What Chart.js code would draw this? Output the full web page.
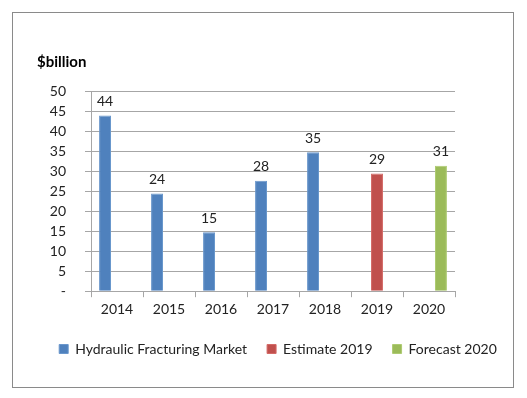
<!DOCTYPE html>
<html><head><meta charset="utf-8">
<script src="https://cdn.jsdelivr.net/npm/chart.js@4.4.0/dist/chart.umd.min.js"></script>
<style>
html,body{margin:0;padding:0;background:#fff;}
#wrap{position:relative;width:527px;height:398px;}
#frame{position:absolute;left:12px;top:12px;width:500px;height:374px;border:1px solid #8a8a8a;pointer-events:none;}
canvas{position:absolute;left:0;top:0;}
</style></head>
<body>
<div id="wrap"><canvas id="c" width="527" height="398"></canvas><div id="frame"></div></div>
<script>
const categories = ['2014','2015','2016','2017','2018','2019','2020'];
const marketValues = [43.9, 24.4, 14.7, 27.6, 34.7, null, null];
const estimateValues = [null, null, null, null, null, 29.4, null];
const forecastValues = [null, null, null, null, null, null, 31.3];
const seriesNames = ['Hydraulic Fracturing Market', 'Estimate 2019', 'Forecast 2020'];
const yTickLabels = {0:'-',5:'5',10:'10',15:'15',20:'20',25:'25',30:'30',35:'35',40:'40',45:'45',50:'50'};

const FONT = 'Lato, "Noto Sans", sans-serif';
const gridColor = '#a6a6a6';

const labelPlugin = {
  id: 'barLabels',
  afterDatasetsDraw(chart) {
    const ctx = chart.ctx;
    ctx.save();
    ctx.font = '14px ' + FONT;
    ctx.fillStyle = '#222';
    ctx.textAlign = 'center';
    ctx.textBaseline = 'bottom';
    chart.data.datasets.forEach((ds, i) => {
      const meta = chart.getDatasetMeta(i);
      meta.data.forEach((el, j) => {
        const v = ds.data[j];
        if (v === null || v === undefined) return;
        ctx.fillText(String(Math.round(v)), el.x, el.y - 7);
      });
    });
    ctx.restore();
  }
};

new Chart(document.getElementById('c'), {
  type: 'bar',
  data: {
    labels: categories,
    datasets: [
      {label: seriesNames[0], data: marketValues, backgroundColor: '#4F81BD', borderColor:'#6a97cc', borderWidth:1},
      {label: seriesNames[1], data: estimateValues, backgroundColor: '#C0504D', borderColor:'#d46a67', borderWidth:1},
      {label: seriesNames[2], data: forecastValues, backgroundColor: '#9BBB59', borderColor:'#aecb72', borderWidth:1}
    ]
  },
  options: {
    responsive: false,
    animation: false,
    devicePixelRatio: 1,
    layout: {padding: {left: 37, right: 8, top: 53, bottom: 32}},
    datasets: {bar: {categoryPercentage: 0.69, barPercentage: 1.0, grouped: true}},
    scales: {
      x: {
        offset: true,
        grid: {display: true, drawOnChartArea: false, drawTicks: true, tickLength: 6, color: gridColor, offset: true},
        border: {display: true, color: gridColor},
        ticks: {autoSkip: false, maxRotation: 0, font: {family: FONT, size: 14}, color: '#222', padding: 4}
      },
      y: {
        min: 0, max: 50,
        afterFit(scale) { scale.width = 54; },
        grid: {color: gridColor, drawTicks: true, tickLength: 6},
        border: {display: true, color: gridColor},
        ticks: {autoSkip: false, stepSize: 5, font: {family: FONT, size: 14}, color: '#222', padding: 19,
          callback: (v) => yTickLabels[v] !== undefined ? yTickLabels[v] : ''}
      },
      yr: {
        position: 'right',
        min: 0, max: 50,
        afterFit(scale) { scale.width = 64; },
        grid: {display: false},
        border: {display: false},
        ticks: {display: false}
      }
    },
    plugins: {
      title: {display: true, text: '$billion', align: 'start', font: {family: FONT, size: 15, weight: 'bold'}, color: '#000', padding: {top: 0, bottom: 20}},
      legend: {position: 'bottom', labels: {font: {family: FONT, size: 14}, color: '#222', boxWidth: 9, boxHeight: 9, padding: 20}},
      tooltip: {enabled: false}
    }
  },
  plugins: [labelPlugin]
});
</script>
</body></html>
